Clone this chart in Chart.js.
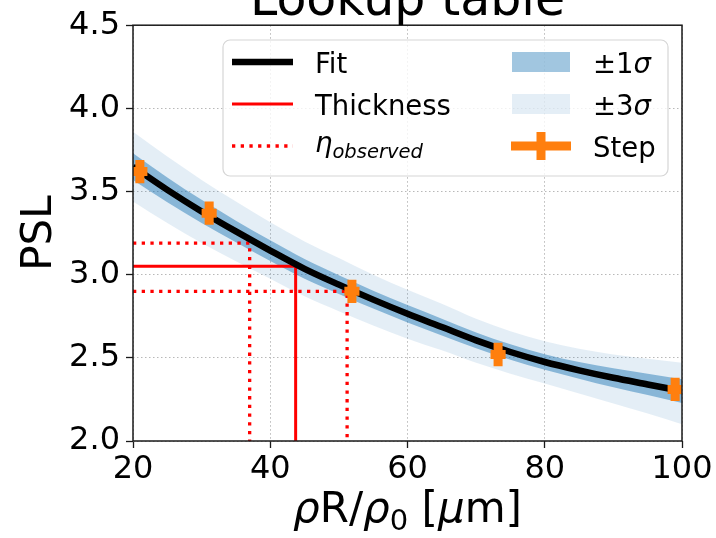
<!DOCTYPE html>
<html>
<head>
<meta charset="utf-8">
<script src="https://cdn.jsdelivr.net/npm/chart.js@4/dist/chart.umd.min.js"></script>
<style>
  html, body { margin: 0; padding: 0; background: #fff; }
  canvas { display: block; }
</style>
</head>
<body>
<canvas id="c" width="716" height="538"></canvas>
<script>
// Fitted lookup curve (PSL vs areal density)
const fitX  = [20, 25, 30, 35, 40, 45, 50, 55, 60, 65, 70, 75, 80, 85, 90, 95, 100];
const fitY  = [3.65, 3.51, 3.38, 3.26, 3.145, 3.035, 2.94, 2.85, 2.765, 2.685, 2.605, 2.535, 2.475, 2.425, 2.38, 2.34, 2.30];

// Confidence bands around the fit
const sigma1Hi = [3.73, 3.585, 3.45, 3.325, 3.207, 3.094, 2.996, 2.904, 2.817, 2.735, 2.653, 2.582, 2.522, 2.475, 2.437, 2.404, 2.372];
const sigma1Lo = [3.57, 3.435, 3.31, 3.195, 3.083, 2.976, 2.884, 2.796, 2.713, 2.635, 2.557, 2.488, 2.428, 2.375, 2.323, 2.276, 2.228];
const sigma3Hi = [3.86, 3.71, 3.57, 3.44, 3.315, 3.20, 3.10, 3.00, 2.91, 2.825, 2.735, 2.66, 2.60, 2.555, 2.52, 2.495, 2.47];
const sigma3Lo = [3.44, 3.31, 3.19, 3.08, 2.975, 2.87, 2.78, 2.695, 2.615, 2.545, 2.47, 2.405, 2.345, 2.285, 2.225, 2.165, 2.10];

// Step-wedge calibration points with errors
const stepX    = [21.0, 31.1, 51.9, 73.2, 99.0];
const stepY    = [3.62, 3.37, 2.90, 2.52, 2.31];
const stepXErr = [1.1, 1.1, 1.1, 1.1, 1.1];
const stepYErr = [0.07, 0.07, 0.07, 0.07, 0.07];

// Inferred thickness and observed PSL range
const thicknessX = 43.7;
const thicknessY = 3.05;
const observedX  = [37.0, 51.2];
const observedY  = [3.19, 2.90];

// Axis ticks
const xTicks = [20, 40, 60, 80, 100];
const yTicks = [2.0, 2.5, 3.0, 3.5, 4.0, 4.5];

const FONT = '"DejaVu Sans", "Liberation Sans", sans-serif';
const BLUE = '31,119,180';
const ORANGE = '#ff7f0e';
const RED = '#ff0000';
const X0 = 20;
const Y0 = 2.0;

const pts = (xs, ys) => xs.map((v, i) => ({ x: v, y: ys[i] }));
const hidden = { borderWidth: 0, borderColor: 'rgba(0,0,0,0)', pointRadius: 0, cubicInterpolationMode: 'monotone' };

const datasets = [
  Object.assign({ label: 'sig3lo', data: pts(fitX, sigma3Lo), fill: false, order: 10 }, hidden),
  Object.assign({ label: 'sig3hi', data: pts(fitX, sigma3Hi), fill: 0, backgroundColor: `rgba(${BLUE},0.12)`, order: 10 }, hidden),
  Object.assign({ label: 'sig1lo', data: pts(fitX, sigma1Lo), fill: false, order: 9 }, hidden),
  Object.assign({ label: 'sig1hi', data: pts(fitX, sigma1Hi), fill: 2, backgroundColor: `rgba(${BLUE},0.47)`, order: 9 }, hidden),
  {
    label: 'Thickness',
    data: [{ x: X0, y: thicknessY }, { x: thicknessX, y: thicknessY }, { x: thicknessX, y: Y0 }],
    borderColor: RED, borderWidth: 3, pointRadius: 0, fill: false, tension: 0, order: 8
  },
  {
    label: 'obsHigh',
    data: [{ x: X0, y: observedY[0] }, { x: observedX[0], y: observedY[0] }, { x: observedX[0], y: Y0 }],
    borderColor: RED, borderWidth: 3.3, borderDash: [3.3, 5.4], borderCapStyle: 'butt',
    pointRadius: 0, fill: false, tension: 0, order: 8
  },
  {
    label: 'obsLow',
    data: [{ x: X0, y: observedY[1] }, { x: observedX[1], y: observedY[1] }, { x: observedX[1], y: Y0 }],
    borderColor: RED, borderWidth: 3.3, borderDash: [3.3, 5.4], borderCapStyle: 'butt',
    pointRadius: 0, fill: false, tension: 0, order: 8
  },
  {
    label: 'Fit', data: pts(fitX, fitY), borderColor: '#000', borderWidth: 6.5,
    pointRadius: 0, fill: false, cubicInterpolationMode: 'monotone', order: 7
  }
];

// Draws text made of several runs (regular / italic / subscript)
function drawRuns(ctx, runs, x, y, align) {
  let total = 0;
  runs.forEach(r => { ctx.font = r.font; total += ctx.measureText(r.t).width; });
  let cx = align === 'center' ? x - total / 2 : x;
  ctx.textAlign = 'left';
  ctx.textBaseline = 'alphabetic';
  runs.forEach(r => {
    ctx.font = r.font;
    ctx.fillText(r.t, cx, y + (r.dy || 0));
    cx += ctx.measureText(r.t).width;
  });
}

const errorBars = {
  id: 'errorBars',
  afterDatasetsDraw(chart) {
    const { ctx, chartArea: a, scales: { x, y } } = chart;
    ctx.save();
    ctx.beginPath();
    ctx.rect(a.left, a.top, a.right - a.left, a.bottom - a.top);
    ctx.clip();
    ctx.strokeStyle = ORANGE;
    ctx.lineWidth = 9;
    ctx.lineCap = 'butt';
    stepX.forEach((v, i) => {
      const px = x.getPixelForValue(v);
      const py = y.getPixelForValue(stepY[i]);
      ctx.beginPath();
      ctx.moveTo(x.getPixelForValue(v - stepXErr[i]), py);
      ctx.lineTo(x.getPixelForValue(v + stepXErr[i]), py);
      ctx.stroke();
      ctx.beginPath();
      ctx.moveTo(px, y.getPixelForValue(stepY[i] - stepYErr[i]));
      ctx.lineTo(px, y.getPixelForValue(stepY[i] + stepYErr[i]));
      ctx.stroke();
    });
    ctx.restore();
  }
};

const decorations = {
  id: 'decorations',
  afterDraw(chart) {
    const { ctx, chartArea: a } = chart;
    ctx.save();

    // frame
    ctx.strokeStyle = '#1a1a1a';
    ctx.lineWidth = 1.5;
    ctx.strokeRect(a.left, a.top, a.right - a.left, a.bottom - a.top);

    ctx.fillStyle = '#000';
    // title
    ctx.font = `49px ${FONT}`;
    ctx.textAlign = 'center';
    ctx.textBaseline = 'alphabetic';
    ctx.fillText('Lookup table', (a.left + a.right) / 2, 15);

    // x axis title
    const big = `42px ${FONT}`;
    const bigIt = `oblique 42px ${FONT}`;
    drawRuns(ctx, [
      { t: 'ρ', font: bigIt },
      { t: 'R/', font: big },
      { t: 'ρ', font: bigIt },
      { t: '0', font: `29px ${FONT}`, dy: 8 },
      { t: ' [', font: big },
      { t: 'μ', font: bigIt },
      { t: 'm]', font: big }
    ], (a.left + a.right) / 2, 522, 'center');

    // y axis title
    ctx.save();
    ctx.translate(40, (a.top + a.bottom) / 2);
    ctx.rotate(-Math.PI / 2);
    ctx.font = big;
    ctx.textAlign = 'center';
    ctx.textBaseline = 'middle';
    ctx.fillText('PSL', 0, 0);
    ctx.restore();

    // legend box
    const bx = 223, by = 40, bw = 445, bh = 136, r = 7;
    ctx.beginPath();
    ctx.moveTo(bx + r, by);
    ctx.arcTo(bx + bw, by, bx + bw, by + bh, r);
    ctx.arcTo(bx + bw, by + bh, bx, by + bh, r);
    ctx.arcTo(bx, by + bh, bx, by, r);
    ctx.arcTo(bx, by, bx + bw, by, r);
    ctx.closePath();
    ctx.fillStyle = 'rgba(255,255,255,0.8)';
    ctx.fill();
    ctx.strokeStyle = '#d6d6d6';
    ctx.lineWidth = 1.2;
    ctx.stroke();

    const rows = [62, 104, 146];
    const base = [73, 115, 157];
    const lf = `27.5px ${FONT}`;
    const lfIt = `oblique 27.5px ${FONT}`;
    ctx.lineCap = 'butt';

    // left column handles
    ctx.strokeStyle = '#000'; ctx.lineWidth = 6.5;
    ctx.beginPath(); ctx.moveTo(232, rows[0]); ctx.lineTo(293, rows[0]); ctx.stroke();
    ctx.strokeStyle = RED; ctx.lineWidth = 3;
    ctx.beginPath(); ctx.moveTo(232, rows[1]); ctx.lineTo(293, rows[1]); ctx.stroke();
    ctx.lineWidth = 3.3; ctx.setLineDash([3.3, 5.4]);
    ctx.beginPath(); ctx.moveTo(232, rows[2]); ctx.lineTo(293, rows[2]); ctx.stroke();
    ctx.setLineDash([]);

    ctx.fillStyle = '#000';
    drawRuns(ctx, [{ t: 'Fit', font: lf }], 315, base[0]);
    drawRuns(ctx, [{ t: 'Thickness', font: lf }], 315, base[1]);
    drawRuns(ctx, [
      { t: 'η', font: lfIt, dy: -5 },
      { t: 'observed', font: `oblique 19.5px ${FONT}`, dy: 1 }
    ], 315, base[2]);

    // right column handles
    ctx.fillStyle = `rgba(${BLUE},0.42)`;
    ctx.fillRect(512, rows[0] - 10, 58, 20);
    ctx.fillStyle = `rgba(${BLUE},0.12)`;
    ctx.fillRect(512, rows[1] - 10, 58, 20);
    ctx.strokeStyle = ORANGE; ctx.lineWidth = 9;
    ctx.beginPath(); ctx.moveTo(511, rows[2]); ctx.lineTo(571, rows[2]); ctx.stroke();
    ctx.beginPath(); ctx.moveTo(541, rows[2] - 14); ctx.lineTo(541, rows[2] + 14); ctx.stroke();

    ctx.fillStyle = '#000';
    drawRuns(ctx, [{ t: '±1', font: lf }, { t: 'σ', font: lfIt }], 593, base[0]);
    drawRuns(ctx, [{ t: '±3', font: lf }, { t: 'σ', font: lfIt }], 593, base[1]);
    drawRuns(ctx, [{ t: 'Step', font: lf }], 593, base[2]);

    ctx.restore();
  }
};

const gridOpts = {
  color: '#b8b8b8', lineWidth: 1,
  tickLength: 7, tickColor: '#1a1a1a', tickWidth: 1.3, tickBorderDash: []
};

new Chart(document.getElementById('c').getContext('2d'), {
  type: 'line',
  data: { datasets },
  options: {
    responsive: false,
    animation: false,
    devicePixelRatio: 1,
    layout: { padding: { left: 0, right: 34, top: 24, bottom: 0 } },
    plugins: {
      legend: { display: false },
      tooltip: { enabled: false },
      title: { display: false },
      filler: { propagate: false }
    },
    scales: {
      x: {
        type: 'linear', min: X0, max: 100,
        afterBuildTicks: s => { s.ticks = xTicks.map(v => ({ value: v })); },
        ticks: { color: '#000', font: { family: FONT, size: 32 }, padding: 2, maxRotation: 0, autoSkip: false,
                 callback: v => String(v) },
        grid: gridOpts,
        border: { display: false, dash: [1.5, 2.5] },
        afterFit: s => { s.height = 97; }
      },
      y: {
        type: 'linear', min: Y0, max: 4.5,
        afterBuildTicks: s => { s.ticks = yTicks.map(v => ({ value: v })); },
        ticks: { color: '#000', font: { family: FONT, size: 32 }, padding: 6, autoSkip: false,
                 callback: v => Number(v).toFixed(1) },
        grid: gridOpts,
        border: { display: false, dash: [1.5, 2.5] },
        afterFit: s => { s.width = 133; }
      }
    }
  },
  plugins: [errorBars, decorations]
});
</script>
</body>
</html>
